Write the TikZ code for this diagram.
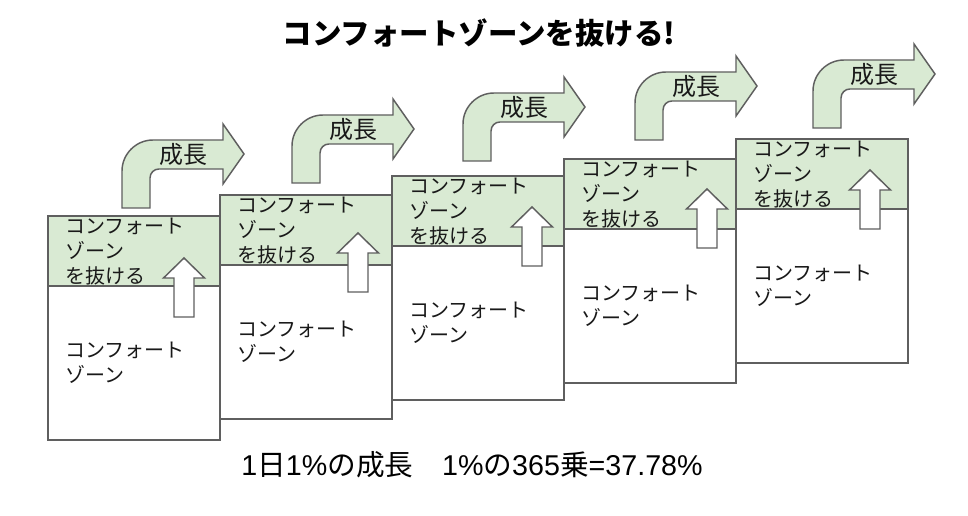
\documentclass[tikz,border=0pt]{standalone}
\usepackage{fontspec}
\setmainfont{Liberation Sans}
\newfontfamily\cjk{Noto Sans CJK JP}
\definecolor{zgreen}{HTML}{D9EAD3}
\definecolor{zline}{HTML}{5F5F5F}
\begin{document}
\begin{tikzpicture}[x=0.75pt,y=-0.75pt,
  zbox/.style={draw=zline,line width=1.2pt},
  zarrow/.style={draw=zline,line width=1.1pt,line join=miter},
  ztext/.style={inner sep=0pt,align=left,font=\cjk\fontsize{15}{18.75}\selectfont,text=black!90},
  growtext/.style={inner sep=0pt,font=\cjk\fontsize{18}{20}\selectfont,text=black!90},
  titletext/.style={inner sep=0pt,font=\cjk\bfseries\fontsize{22.1}{26}\selectfont},
  foottext/.style={inner sep=0pt,font=\fontsize{21.5}{24}\selectfont}]
\useasboundingbox[fill=white] (0,0) rectangle (968,516);
\node[titletext] (title) at (479,33) {コンフォートゾーンを抜ける!};
\foreach \i/\bx/\by/\ax/\ay/\gx/\gy in {1/48/216/184/258/122/208,2/220/195/358/233/292/183,3/392/176/532/207/463/161,4/564/159/707/189/635/140,5/736/139/870/170/813/128}{
  \draw[zbox,fill=zgreen] (\bx,\by) rectangle ({\bx+172},{\by+70});
  \draw[zbox,fill=white] (\bx,{\by+70}) rectangle ({\bx+172},{\by+224});
  \node[ztext,anchor=west] (top\i) at ({\bx+17},{\by+36}) {コンフォート\\ゾーン\\を抜ける};
  \node[ztext,anchor=west] (low\i) at ({\bx+17},{\by+147}) {コンフォート\\ゾーン};
  \draw[zarrow,fill=white] (\ax,\ay) -- ({\ax+20.5},{\ay+20}) -- ({\ax+10},{\ay+20}) -- ({\ax+10},{\ay+59})
     -- ({\ax-10},{\ay+59}) -- ({\ax-10},{\ay+20}) -- ({\ax-20.5},{\ay+20}) -- cycle;
  \draw[zarrow,fill=zgreen] (\gx,\gy) -- (\gx,{\gy-37})
     .. controls (\gx,{\gy-54}) and ({\gx+14},{\gy-68}) .. ({\gx+31},{\gy-68})
     -- ({\gx+101},{\gy-68}) -- ({\gx+101},{\gy-84}) -- ({\gx+122},{\gy-54})
     -- ({\gx+101},{\gy-24}) -- ({\gx+101},{\gy-39}) -- ({\gx+37},{\gy-39})
     .. controls ({\gx+32},{\gy-39}) and ({\gx+28},{\gy-35}) .. ({\gx+28},{\gy-30})
     -- ({\gx+28},\gy) -- cycle;
  \node[growtext] (grow\i) at ({\gx+61},{\gy-54}) {成長};
}
\node[foottext] (foot) at (472,465) {1{\cjk 日}1\%{\cjk の成長}\hspace{1em}1\%{\cjk の}365{\cjk 乗}=37.78\%};
\end{tikzpicture}
\end{document}
